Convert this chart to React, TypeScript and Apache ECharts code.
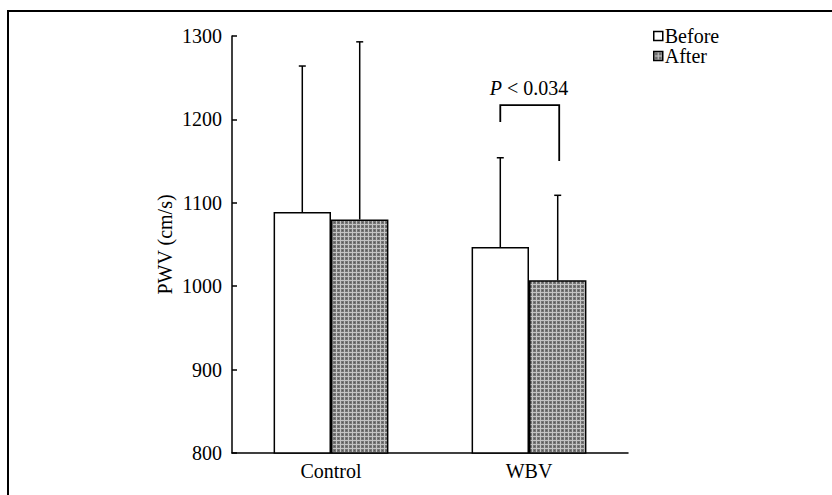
import React, { useEffect, useRef } from 'react';
import * as echarts from 'echarts';

const categories = ['Control', 'WBV'];
const seriesNames = ['Before', 'After'];
const beforeValues = [1089, 1047];
const afterValues = [1080, 1007];
const beforeSD = [175, 107];
const afterSD = [213, 102];
const yMin = 800;
const yMax = 1300;
const yInterval = 100;
// significance bracket (in data units), on WBV
const bracketCategory = 1;
const bracketLeftBottom = 1197;
const bracketTop = 1217;
const bracketRightBottom = 1150;
const bracketLabelValue = 1238;
const pLabelItalic = 'P';
const pLabelRest = ' < 0.034';

const FONT = "'Liberation Serif', 'Times New Roman', serif";
const BAR_FRAC = 0.29;

function makePattern(): HTMLCanvasElement {
  const c = document.createElement('canvas');
  c.width = 4;
  c.height = 4;
  const ctx = c.getContext('2d')!;
  ctx.fillStyle = '#c4c4c4';
  ctx.fillRect(0, 0, 4, 4);
  ctx.fillStyle = '#767676';
  ctx.fillRect(1, 1, 3, 3);
  ctx.fillStyle = '#585858';
  ctx.fillRect(2, 2, 1, 1);
  return c;
}

export default function App() {
  const ref = useRef<HTMLDivElement>(null);
  useEffect(() => {
    document.body.style.margin = '0';
    const chart = echarts.init(ref.current!, null, { renderer: 'svg' });
    const pattern = { image: makePattern(), repeat: 'repeat' };

    const errRender = (sign: number) => (params: any, api: any) => {
      const idx = api.value(0);
      const val = api.value(1);
      const sd = api.value(2);
      const band = api.size([1, 0])[0];
      const off = (band * BAR_FRAC) / 2 * sign;
      const base = api.coord([idx, val]);
      const top = api.coord([idx, val + sd]);
      const x = base[0] + off;
      const st = { stroke: '#000', lineWidth: 1.5 };
      return {
        type: 'group',
        children: [
          { type: 'line', shape: { x1: x, y1: base[1], x2: x, y2: top[1] }, style: st },
          { type: 'line', shape: { x1: x - 3.5, y1: top[1], x2: x + 3.5, y2: top[1] }, style: st },
        ],
      };
    };

    chart.setOption({
      animation: false,
      backgroundColor: '#fff',
      textStyle: { fontFamily: FONT },
      grid: { left: 232, top: 36, right: 204, bottom: 42 },
      legend: {
        orient: 'vertical',
        left: 648,
        top: 21,
        itemWidth: 9,
        itemHeight: 9,
        itemGap: 0,
        icon: 'rect',
        data: seriesNames,
        itemStyle: { borderColor: '#000', borderWidth: 1.5 },
        textStyle: { fontFamily: FONT, fontSize: 20, color: '#000', lineHeight: 17, padding: [0, 0, 0, -3] },
      },
      xAxis: {
        type: 'category',
        data: categories,
        axisLine: { lineStyle: { color: '#000', width: 1.5 } },
        axisTick: { show: false },
        axisLabel: { fontFamily: FONT, fontSize: 20, color: '#000', margin: 8 },
      },
      yAxis: {
        type: 'value',
        min: yMin,
        max: yMax,
        interval: yInterval,
        name: 'PWV (cm/s)',
        nameLocation: 'middle',
        nameGap: 57,
        nameTextStyle: { fontFamily: FONT, fontSize: 20, color: '#000' },
        splitLine: { show: false },
        axisLine: { show: true, lineStyle: { color: '#000', width: 1.5 } },
        axisTick: { show: true, inside: true, length: 5, lineStyle: { color: '#000', width: 1.5 } },
        axisLabel: { fontFamily: FONT, fontSize: 20, color: '#000', margin: 10, formatter: (v: number) => String(v) },
      },
      series: [
        {
          name: seriesNames[0],
          type: 'bar',
          data: beforeValues,
          barWidth: BAR_FRAC * 100 + '%',
          barGap: '0%',
          itemStyle: { color: '#fff', borderColor: '#000', borderWidth: 1.5 },
          z: 3,
        },
        {
          name: seriesNames[1],
          type: 'bar',
          data: afterValues,
          barWidth: BAR_FRAC * 100 + '%',
          barGap: '0%',
          itemStyle: { color: pattern, borderColor: '#000', borderWidth: 1.5 },
          z: 3,
        },
        {
          type: 'custom',
          renderItem: errRender(-1),
          data: beforeValues.map((v, i) => [i, v, beforeSD[i]]),
          z: 2,
          silent: true,
        },
        {
          type: 'custom',
          renderItem: errRender(1),
          data: afterValues.map((v, i) => [i, v, afterSD[i]]),
          z: 2,
          silent: true,
        },
        {
          type: 'custom',
          silent: true,
          z: 4,
          data: [[bracketCategory, bracketLeftBottom, bracketTop, bracketRightBottom, bracketLabelValue]],
          renderItem: (params: any, api: any) => {
            const idx = api.value(0);
            const band = api.size([1, 0])[0];
            const off = (band * BAR_FRAC) / 2;
            const cx = api.coord([idx, api.value(2)])[0];
            const yl = api.coord([idx, api.value(1)])[1];
            const yt = api.coord([idx, api.value(2)])[1];
            const yr = api.coord([idx, api.value(3)])[1];
            const ylab = api.coord([idx, api.value(4)])[1];
            return {
              type: 'group',
              children: [
                {
                  type: 'polyline',
                  shape: { points: [[cx - off, yl], [cx - off, yt], [cx + off + 1.5, yt], [cx + off + 1.5, yr]] },
                  style: { stroke: '#000', lineWidth: 1.8, fill: 'none' },
                },
                {
                  type: 'text',
                  x: cx,
                  y: ylab,
                  style: {
                    text: '{i|' + pLabelItalic + '}{n|' + pLabelRest + '}',
                    align: 'center',
                    verticalAlign: 'middle',
                    rich: {
                      i: { fontFamily: FONT, fontSize: 20, fontStyle: 'italic', fill: '#000' },
                      n: { fontFamily: FONT, fontSize: 20, fill: '#000' },
                    },
                  },
                },
              ],
            };
          },
        },
      ],
      graphic: [
        { type: 'line', shape: { x1: 8, y1: 11, x2: 832, y2: 11 }, style: { stroke: '#000', lineWidth: 2 } },
        { type: 'line', shape: { x1: 8, y1: 10, x2: 8, y2: 495 }, style: { stroke: '#000', lineWidth: 2 } },
      ],
    });
    return () => chart.dispose();
  }, []);
  return <div ref={ref} style={{ width: 832, height: 495 }} />;
}
